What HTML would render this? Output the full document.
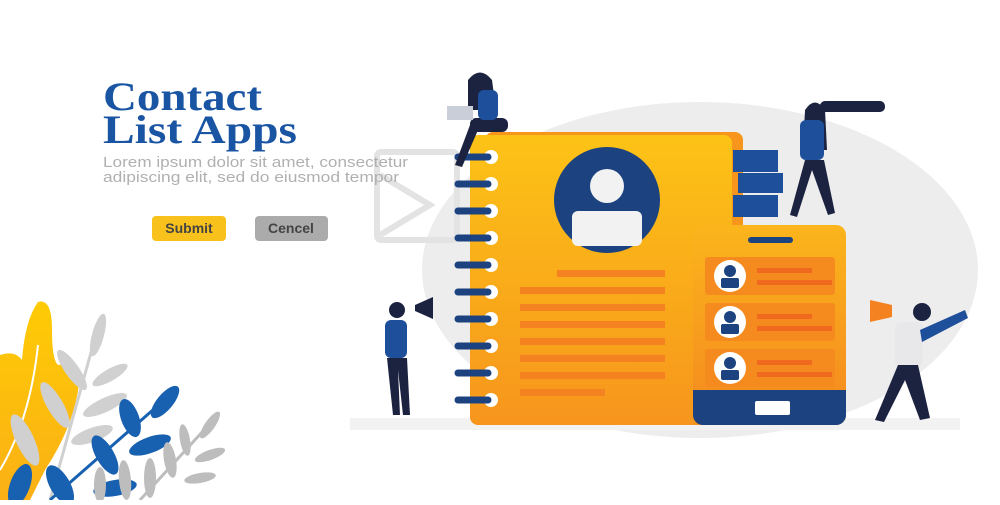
<!DOCTYPE html>
<html><head><meta charset="utf-8"><style>
body{margin:0;width:1000px;height:500px;overflow:hidden;background:#fff;font-family:"Liberation Sans",sans-serif}
</style></head><body>
<svg width="1000" height="500" viewBox="0 0 1000 500" xmlns="http://www.w3.org/2000/svg">
<defs>
<linearGradient id="nb" x1="0" y1="0" x2="0" y2="1"><stop offset="0" stop-color="#fcc316"/><stop offset="1" stop-color="#f7951d"/></linearGradient>
<linearGradient id="ph" x1="0" y1="0" x2="0" y2="1"><stop offset="0" stop-color="#fbb51c"/><stop offset="1" stop-color="#f4881f"/></linearGradient>
<linearGradient id="yl" x1="0" y1="0" x2="0" y2="1"><stop offset="0" stop-color="#fecb05"/><stop offset="1" stop-color="#fbb015"/></linearGradient>
</defs>
<ellipse cx="700" cy="270" rx="278" ry="168" fill="#ededed"/>
<rect x="350" y="418" width="610" height="12" fill="#f2f2f2"/>
<!-- envelope -->
<rect x="377" y="152" width="80" height="88" rx="4" fill="none" stroke="#e3e3e3" stroke-width="6"/>
<path d="M380 175 L430 205 L380 235" fill="none" stroke="#e3e3e3" stroke-width="6"/>
<!-- title -->
<text x="103" y="110" font-family="Liberation Serif,serif" font-weight="bold" font-size="40" fill="#1a55a3" textLength="159" lengthAdjust="spacingAndGlyphs">Contact</text>
<text x="103" y="143" font-family="Liberation Serif,serif" font-weight="bold" font-size="40" fill="#1a55a3" textLength="194" lengthAdjust="spacingAndGlyphs">List Apps</text>
<text x="103" y="167" font-size="15" fill="#b0b0b0" textLength="305" lengthAdjust="spacingAndGlyphs">Lorem ipsum dolor sit amet, consectetur</text>
<text x="103" y="182" font-size="15" fill="#b0b0b0" textLength="296" lengthAdjust="spacingAndGlyphs">adipiscing elit, sed do eiusmod tempor</text>
<rect x="152" y="216" width="74" height="25" rx="4" fill="#f9c11b"/>
<text x="189" y="233" text-anchor="middle" font-weight="bold" font-size="14" fill="#444">Submit</text>
<rect x="255" y="216" width="73" height="25" rx="4" fill="#ababab"/>
<text x="291" y="233" text-anchor="middle" font-weight="bold" font-size="14" fill="#444">Cencel</text>
<!-- notebook -->
<rect x="485" y="132" width="258" height="290" rx="8" fill="#f7951d"/>
<rect x="470" y="135" width="262" height="290" rx="8" fill="url(#nb)"/>
<g>
<g fill="#fff"><circle cx="491" cy="157" r="7"/><circle cx="491" cy="184" r="7"/><circle cx="491" cy="211" r="7"/><circle cx="491" cy="238" r="7"/><circle cx="491" cy="265" r="7"/><circle cx="491" cy="292" r="7"/><circle cx="491" cy="319" r="7"/><circle cx="491" cy="346" r="7"/><circle cx="491" cy="373" r="7"/><circle cx="491" cy="400" r="7"/></g>
<g stroke="#1c4380" stroke-width="7" stroke-linecap="round"><path d="M458 157H488M458 184H488M458 211H488M458 238H488M458 265H488M458 292H488M458 319H488M458 346H488M458 373H488M458 400H488"/></g>
</g>
<circle cx="607" cy="200" r="53" fill="#1c4380"/>
<circle cx="607" cy="186" r="17" fill="#f2f2f2"/>
<rect x="572" y="211" width="70" height="35" rx="6" fill="#f2f2f2"/>
<g fill="#f58220">
<rect x="557" y="270" width="108" height="7"/><rect x="520" y="287" width="145" height="7"/><rect x="520" y="304" width="145" height="7"/><rect x="520" y="321" width="145" height="7"/><rect x="520" y="338" width="145" height="7"/><rect x="520" y="355" width="145" height="7"/><rect x="520" y="372" width="145" height="7"/><rect x="520" y="389" width="85" height="7"/>
</g>
<rect x="733" y="150" width="45" height="22" fill="#1e4f9a"/><rect x="738" y="173" width="45" height="20" fill="#1e4f9a"/><rect x="733" y="195" width="45" height="22" fill="#1e4f9a"/>
<!-- phone -->
<rect x="693" y="225" width="153" height="200" rx="10" fill="url(#ph)"/>
<path d="M693 390 H846 V415 a10 10 0 0 1 -10 10 H703 a10 10 0 0 1 -10 -10 Z" fill="#1c4380"/>
<rect x="755" y="401" width="35" height="14" rx="2" fill="#fff"/>
<rect x="748" y="237" width="45" height="6" rx="3" fill="#1c4380"/>
<g>
<rect x="705" y="257" width="130" height="38" rx="3" fill="#f58b1f"/>
<rect x="705" y="303" width="130" height="38" rx="3" fill="#f58b1f"/>
<rect x="705" y="349" width="130" height="38" rx="3" fill="#f58b1f"/>
<g fill="#fff"><circle cx="730" cy="276" r="16"/><circle cx="730" cy="322" r="16"/><circle cx="730" cy="368" r="16"/></g>
<g fill="#1c4380"><circle cx="730" cy="271" r="6"/><rect x="721" y="278" width="18" height="10" rx="2"/><circle cx="730" cy="317" r="6"/><rect x="721" y="324" width="18" height="10" rx="2"/><circle cx="730" cy="363" r="6"/><rect x="721" y="370" width="18" height="10" rx="2"/></g>
<g fill="#ef6a1f"><rect x="757" y="268" width="55" height="5"/><rect x="757" y="280" width="75" height="5"/><rect x="757" y="314" width="55" height="5"/><rect x="757" y="326" width="75" height="5"/><rect x="757" y="360" width="55" height="5"/><rect x="757" y="372" width="75" height="5"/></g>
</g>
<!-- people (simplified) -->
<g fill="#1c2340">
<path d="M468 80 q12 -15 24 0 l4 30 -28 0z"/>
<rect x="470" y="118" width="38" height="14" rx="6"/>
<path d="M470 125 L455 165 L462 167 L478 130z"/>
</g>
<rect x="478" y="90" width="20" height="30" rx="6" fill="#1e4f9a"/>
<rect x="447" y="106" width="26" height="14" fill="#c9ced8"/>
<path d="M805 110 q10 -15 20 0 l2 40 -24 0z" fill="#1c2340"/>
<rect x="800" y="120" width="24" height="40" rx="6" fill="#1e4f9a"/>
<path d="M805 160 L790 215 L797 217 L812 170 L828 215 L835 213 L824 160z" fill="#1c2340"/>
<rect x="820" y="101" width="65" height="11" rx="5" fill="#1c2340"/>
<circle cx="397" cy="310" r="8" fill="#1c2340"/>
<rect x="385" y="320" width="22" height="38" rx="6" fill="#1e4f9a"/>
<path d="M387 358 L393 415 L400 415 L398 370 L403 415 L410 415 L407 358z" fill="#1c2340"/>
<path d="M415 305 l18 -8 0 22 -18 -8z" fill="#1c2340"/>
<circle cx="922" cy="312" r="9" fill="#1c2340"/>
<rect x="895" y="322" width="28" height="45" rx="6" fill="#e8e8ea"/>
<path d="M920 330 L965 310 L968 318 L922 342z" fill="#1e4f9a"/>
<path d="M898 365 L875 420 L884 422 L905 380 L920 420 L930 418 L918 365z" fill="#1c2340"/>
<path d="M870 300 l22 5 0 12 -22 5z" fill="#f58220"/>
<!-- leaves -->
<path d="M0 355 Q15 350 22 360 Q25 320 38 302 Q52 298 52 330 Q52 360 58 365 Q75 362 80 372 Q78 420 45 470 L30 500 L0 500z" fill="url(#yl)"/>
<path d="M38 345 Q30 420 0 470" fill="none" stroke="#fff" stroke-width="2"/>
<g fill="#d0d0d0">
<path d="M50 500 L100 320" stroke="#d0d0d0" stroke-width="3"/>
<ellipse cx="98" cy="335" rx="6" ry="22" transform="rotate(15 98 335)"/>
<ellipse cx="72" cy="370" rx="7" ry="24" transform="rotate(-35 72 370)"/>
<ellipse cx="110" cy="375" rx="6" ry="20" transform="rotate(60 110 375)"/>
<ellipse cx="55" cy="405" rx="8" ry="26" transform="rotate(-30 55 405)"/>
<ellipse cx="105" cy="405" rx="7" ry="24" transform="rotate(65 105 405)"/>
<ellipse cx="25" cy="440" rx="9" ry="28" transform="rotate(-25 25 440)"/>
<ellipse cx="92" cy="435" rx="7" ry="22" transform="rotate(70 92 435)"/>
</g>
<g fill="#1860b0">
<path d="M50 500 L170 395" stroke="#1860b0" stroke-width="3"/>
<ellipse cx="165" cy="402" rx="8" ry="20" transform="rotate(40 165 402)"/>
<ellipse cx="130" cy="418" rx="9" ry="20" transform="rotate(-20 130 418)"/>
<ellipse cx="150" cy="445" rx="8" ry="22" transform="rotate(70 150 445)"/>
<ellipse cx="105" cy="455" rx="9" ry="22" transform="rotate(-30 105 455)"/>
<ellipse cx="115" cy="488" rx="8" ry="22" transform="rotate(80 115 488)"/>
<ellipse cx="60" cy="485" rx="10" ry="22" transform="rotate(-30 60 485)"/>
<ellipse cx="20" cy="485" rx="10" ry="22" transform="rotate(20 20 485)"/>
</g>
<g fill="#bdbdbd">
<path d="M140 500 L215 418" stroke="#bdbdbd" stroke-width="3"/>
<ellipse cx="210" cy="425" rx="5" ry="16" transform="rotate(35 210 425)"/>
<ellipse cx="185" cy="440" rx="5" ry="16" transform="rotate(-10 185 440)"/>
<ellipse cx="210" cy="455" rx="5" ry="16" transform="rotate(70 210 455)"/>
<ellipse cx="170" cy="460" rx="6" ry="18" transform="rotate(-10 170 460)"/>
<ellipse cx="200" cy="478" rx="5" ry="16" transform="rotate(80 200 478)"/>
<ellipse cx="150" cy="478" rx="6" ry="20" transform="rotate(0 150 478)"/>
<ellipse cx="125" cy="480" rx="6" ry="20" transform="rotate(-5 125 480)"/>
<ellipse cx="100" cy="485" rx="6" ry="18" transform="rotate(0 100 485)"/>
</g>
</svg>
</body></html>
